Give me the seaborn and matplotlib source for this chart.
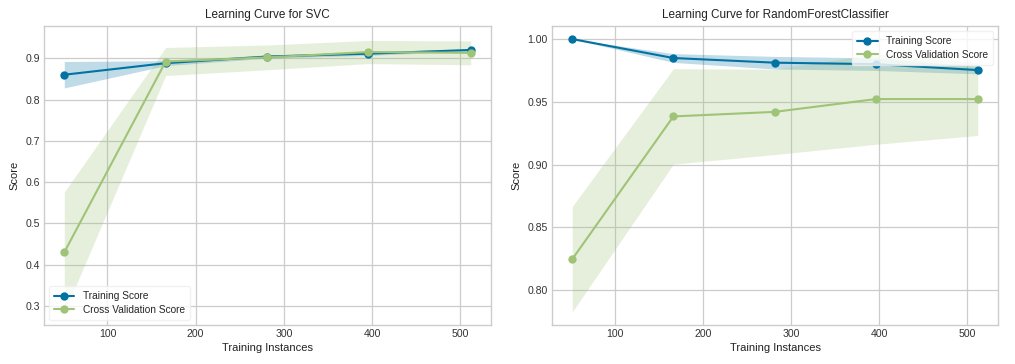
import numpy as np
import pandas as pd
import seaborn as sns
import matplotlib
matplotlib.use("Agg")
import matplotlib.pyplot as plt

# ---- data ----
train_sizes = [51, 166, 281, 396, 512]

svc_train_mean = [0.860, 0.888, 0.904, 0.911, 0.920]
svc_train_std = [0.032, 0.006, 0.004, 0.004, 0.003]
svc_cv_mean = [0.430, 0.892, 0.902, 0.915, 0.913]
svc_cv_std = [0.146, 0.034, 0.030, 0.028, 0.029]

rf_train_mean = [1.000, 0.9849, 0.9812, 0.9800, 0.9753]
rf_train_std = [0.000, 0.0035, 0.0050, 0.0050, 0.0030]
rf_cv_mean = [0.8247, 0.9384, 0.9420, 0.9522, 0.9522]
rf_cv_std = [0.042, 0.038, 0.034, 0.036, 0.029]

titles = ["Learning Curve for SVC", "Learning Curve for RandomForestClassifier"]
series_names = ["Training Score", "Cross Validation Score"]
ylims = [(0.254, 0.978), (0.7723, 1.0104)]
yticks = [[0.3, 0.4, 0.5, 0.6, 0.7, 0.8, 0.9], [0.80, 0.85, 0.90, 0.95, 1.00]]
ytick_fmt = ["{:.1f}", "{:.2f}"]
xticks = [100, 200, 300, 400, 500]
legend_loc = ["lower left", "upper right"]

train_color = "#0272a2"
cv_color = "#9fc377"

sns.set_theme(style="whitegrid")
plt.rcParams["font.family"] = ["Liberation Sans", "DejaVu Sans"]
plt.rcParams["axes.edgecolor"] = "#cccccc"
plt.rcParams["grid.color"] = "#cccccc"

fig = plt.figure(figsize=(10.15, 3.64), dpi=100)
W, H = 1015, 364
ax1 = fig.add_axes([44 / W, 1 - 325 / H, (491 - 44) / W, (325 - 26) / H])
ax2 = fig.add_axes([552 / W, 1 - 325 / H, (998 - 552) / W, (325 - 26) / H])

panels = [
    (ax1, svc_train_mean, svc_train_std, svc_cv_mean, svc_cv_std),
    (ax2, rf_train_mean, rf_train_std, rf_cv_mean, rf_cv_std),
]

for i, (ax, tm, ts, cm, cs) in enumerate(panels):
    x = np.array(train_sizes)
    tm, ts, cm, cs = map(np.array, (tm, ts, cm, cs))
    ax.fill_between(x, tm - ts, tm + ts, color=train_color, alpha=0.25, linewidth=0)
    ax.fill_between(x, cm - cs, cm + cs, color=cv_color, alpha=0.25, linewidth=0)
    df_t = pd.DataFrame({"x": x, "y": tm})
    df_c = pd.DataFrame({"x": x, "y": cm})
    sns.lineplot(data=df_t, x="x", y="y", ax=ax, color=train_color, marker="o",
                 markersize=6, markeredgewidth=0, linewidth=1.5, label=series_names[0])
    sns.lineplot(data=df_c, x="x", y="y", ax=ax, color=cv_color, marker="o",
                 markersize=6, markeredgewidth=0, linewidth=1.5, label=series_names[1])
    ax.set_xlim(28, 535)
    ax.set_ylim(*ylims[i])
    ax.set_xticks(xticks)
    ax.set_yticks(yticks[i])
    ax.set_yticklabels([ytick_fmt[i].format(v) for v in yticks[i]])
    ax.tick_params(labelsize=7.6, colors="#333333", pad=3, length=0)
    ax.set_title(titles[i], fontsize=8.5, color="#222222", pad=6)
    ax.set_xlabel("Training Instances", fontsize=8, color="#222222", labelpad=3)
    ax.set_ylabel("Score", fontsize=8, color="#222222", labelpad=4)
    for s in ax.spines.values():
        s.set_color("#cccccc")
        s.set_linewidth(1.0)
    ax.grid(True, color="#cccccc", linewidth=0.9)
    leg = ax.legend(loc=legend_loc[i], fontsize=7.3, frameon=True, framealpha=0.8,
                    edgecolor="#eeeeee", handlelength=2.0, handletextpad=0.8,
                    borderpad=0.5, labelspacing=0.35)

fig.savefig("out.png", dpi=100)
